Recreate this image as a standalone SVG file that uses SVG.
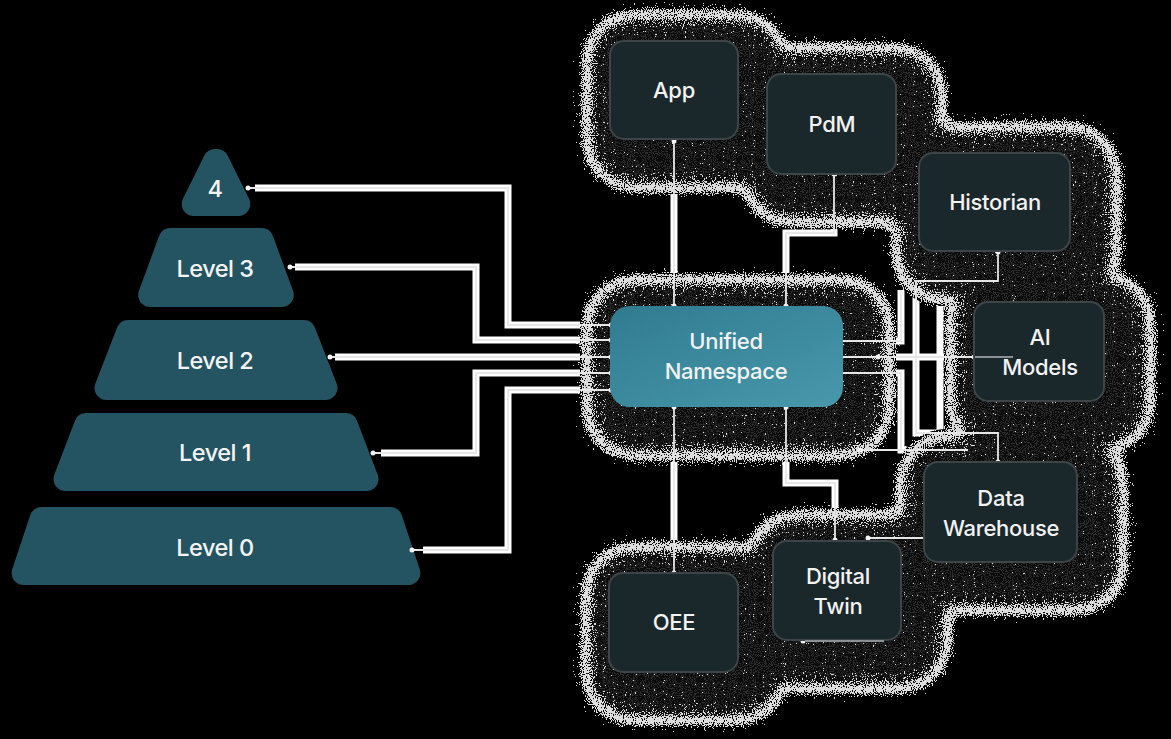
<svg xmlns="http://www.w3.org/2000/svg" xmlns:xlink="http://www.w3.org/1999/xlink" width="1171" height="739" viewBox="0 0 1171 739">
<style>
.tier{fill:#245462;stroke:#245462;stroke-width:24;stroke-linejoin:round}
.ptxt{font-family:Inter,"Liberation Sans",sans-serif;font-size:23.5px;font-weight:500;fill:#f4f4f4;text-anchor:middle;letter-spacing:-0.5px}
.node rect{fill:#1a272b;stroke:#3d4548;stroke-width:2}
.ntxt{font-family:Inter,"Liberation Sans",sans-serif;font-size:22px;font-weight:500;fill:#f2f2f2;text-anchor:middle;letter-spacing:-0.3px}
.thick{fill:none;stroke:#ffffff;stroke-width:7;stroke-linejoin:miter}
.thin{fill:none;stroke:#e6e6e6;stroke-width:1.8}
.faint{fill:none;stroke:#8a9194;stroke-width:1.8}
.dot{fill:#f2f2f2}
</style>
<defs>
<linearGradient id="unsg" x1="0" y1="0" x2="1" y2="1">
<stop offset="0" stop-color="#317b8f"/>
<stop offset="1" stop-color="#4898ac"/>
</linearGradient>
<g id="shadowRects">
<rect x="593" y="21" width="185" height="160" rx="40"/>
<rect x="750" y="54" width="186" height="162" rx="40"/>
<rect x="902" y="133" width="208" height="160" rx="40"/>
<rect x="957" y="282" width="187" height="161" rx="40"/>
<rect x="593" y="286" width="290" height="163" rx="40"/>
<rect x="907" y="442" width="210" height="162" rx="40"/>
<rect x="756" y="521" width="185" height="161" rx="40"/>
<rect x="592" y="553" width="186" height="161" rx="40"/>
</g>
<filter id="grain" filterUnits="userSpaceOnUse" x="0" y="0" width="1171" height="739" color-interpolation-filters="sRGB">
<feGaussianBlur in="SourceAlpha" stdDeviation="9" result="b"/>
<feComponentTransfer in="b" result="d">
<feFuncA type="table" tableValues="0 0.55 0.8 0.72 0.58 0.45 0.35 0.27 0.2 0.14 0.09"/>
</feComponentTransfer>
<feTurbulence type="fractalNoise" baseFrequency="0.9" numOctaves="1" seed="3" result="t"/>
<feColorMatrix in="t" type="matrix" values="0 0 0 0 0  0 0 0 0 0  0 0 0 0 0  2 0 0 0 -0.5" result="n"/>
<feComposite in="d" in2="n" operator="arithmetic" k1="0" k2="1" k3="-1" k4="0.47" result="diff"/>
<feComponentTransfer in="diff" result="mask">
<feFuncA type="discrete" tableValues="0 1"/>
</feComponentTransfer>
<feFlood flood-color="#dcdcdc" result="w"/>
<feComposite in="w" in2="mask" operator="in" result="specks"/>
<feComponentTransfer in="b" result="d2">
<feFuncA type="table" tableValues="0 0 0 0.1 0.2 0.3 0.36 0.42 0.45 0.45 0.45"/>
</feComponentTransfer>
<feTurbulence type="fractalNoise" baseFrequency="0.95" numOctaves="1" seed="11" result="t2"/>
<feColorMatrix in="t2" type="matrix" values="0 0 0 0 0  0 0 0 0 0  0 0 0 0 0  2 0 0 0 -0.5" result="n2"/>
<feComposite in="d2" in2="n2" operator="arithmetic" k1="0" k2="1" k3="-1" k4="0.47" result="diff2"/>
<feComponentTransfer in="diff2" result="mask2">
<feFuncA type="discrete" tableValues="0 1"/>
</feComponentTransfer>
<feFlood flood-color="#2c2c2c" result="g2"/>
<feComposite in="g2" in2="mask2" operator="in" result="grain2"/>
<feComponentTransfer in="b" result="core">
<feFuncA type="linear" slope="20" intercept="-1"/>
</feComponentTransfer>
<feFlood flood-color="#0c0c0c" result="dk"/>
<feComposite in="dk" in2="core" operator="in" result="base"/>
<feMerge><feMergeNode in="base"/><feMergeNode in="grain2"/><feMergeNode in="specks"/></feMerge>
</filter>
<mask id="gapMask" maskUnits="userSpaceOnUse" x="0" y="0" width="1171" height="739">
<rect x="0" y="0" width="1171" height="739" fill="#fff"/>
<use xlink:href="#shadowRects" href="#shadowRects" fill="#000" stroke="#000" stroke-width="26"/>
</mask>
</defs>

<rect x="0" y="0" width="1171" height="739" fill="#000"/>

<g id="shadows">
<use xlink:href="#shadowRects" href="#shadowRects" fill="#000" filter="url(#grain)"/>
</g>

<g id="level4">
<polygon class="tier" points="215,161 217,161 238.3,204 193.7,204"/>
<text class="ptxt" x="215" y="197">4</text>
</g>
<g id="level3">
<polygon class="tier" points="170.4,240 261.6,240 281.8,295 150.2,295"/>
<text class="ptxt" x="215" y="277">Level 3</text>
</g>
<g id="level2">
<polygon class="tier" points="128.2,332 303.8,332 325.5,388 106.5,388"/>
<text class="ptxt" x="215" y="369">Level 2</text>
</g>
<g id="level1">
<polygon class="tier" points="86.2,425 345.8,425 366.5,479 65.5,479"/>
<text class="ptxt" x="215" y="461">Level 1</text>
</g>
<g id="level0">
<polygon class="tier" points="41.6,519 390.4,519 408.4,573 23.6,573"/>
<text class="ptxt" x="215" y="556">Level 0</text>
</g>

<g id="connectors">
<g mask="url(#gapMask)">
<path class="thick" d="M255 188 H508 V325 H611"/>
<path class="thick" d="M295 267 H476 V340 H611"/>
<path class="thick" d="M335 357 H611"/>
<path class="thick" d="M381 453 H476 V373 H611"/>
<path class="thick" d="M423 550 H508 V390 H611"/>
<path class="thick" d="M674 141 V306"/>
<path class="thick" d="M834 174 V233 H786 V306"/>
<path class="thick" d="M674 407 V573"/>
<path class="thick" d="M786 407 V483 H835 V540"/>
<path class="thick" d="M998 252 V281 H916 V433 H998 V462"/>
<path class="thick" d="M841 341 H901 V290"/>
<path class="thick" d="M841 357 H974"/>
<path class="thick" d="M841 373 H901 V450 H968"/>
<path class="thick" d="M940 300 V433"/>
</g>
<path class="thin" d="M248 188 H508 V325 H611"/>
<path class="thin" d="M290 267 H476 V340 H611"/>
<path class="thin" d="M330 357 H611"/>
<path class="thin" d="M373 453 H476 V373 H611"/>
<path class="thin" d="M412 550 H508 V390 H611"/>
<path class="thin" d="M674 141 V306"/>
<path class="thin" d="M834 174 V233 H786 V306"/>
<path class="thin" d="M674 407 V573"/>
<path class="thin" d="M786 407 V483 H835 V540"/>
<path class="thin" d="M868 538 H924"/>
<path class="thin" d="M998 252 V281 H916 V433 H998 V462"/>
<path class="thin" d="M841 341 H901 V290"/>
<path class="thin" d="M841 357 H974"/>
<path class="thin" d="M841 373 H901 V450 H968"/>
<path class="thin" d="M860 450 H901"/>
<circle class="dot" cx="248" cy="188" r="2.5"/>
<circle class="dot" cx="290" cy="267" r="2.5"/>
<circle class="dot" cx="330" cy="357" r="2.5"/>
<circle class="dot" cx="373" cy="453" r="2.5"/>
<circle class="dot" cx="412" cy="550" r="2.5"/>
<circle class="dot" cx="611" cy="325" r="2.5"/>
<circle class="dot" cx="611" cy="340" r="2.5"/>
<circle class="dot" cx="611" cy="357" r="2.5"/>
<circle class="dot" cx="611" cy="373" r="2.5"/>
<circle class="dot" cx="611" cy="390" r="2.5"/>
<circle class="dot" cx="674" cy="141" r="2.5"/>
<circle class="dot" cx="834" cy="174" r="2.5"/>
<circle class="dot" cx="998" cy="252" r="2.5"/>
<circle class="dot" cx="674" cy="306" r="2.5"/>
<circle class="dot" cx="786" cy="306" r="2.5"/>
<circle class="dot" cx="674" cy="407" r="2.5"/>
<circle class="dot" cx="786" cy="407" r="2.5"/>
<circle class="dot" cx="841" cy="341" r="2.5"/>
<circle class="dot" cx="841" cy="357" r="2.5"/>
<circle class="dot" cx="841" cy="373" r="2.5"/>
<circle class="dot" cx="878" cy="357" r="2.5"/>
<circle class="dot" cx="974" cy="357" r="2.5"/>
<circle class="dot" cx="860" cy="450" r="2.5"/>
<circle class="dot" cx="998" cy="462" r="2.5"/>
<circle class="dot" cx="674" cy="573" r="2.5"/>
<circle class="dot" cx="835" cy="540" r="2.5"/>
<circle class="dot" cx="868" cy="538" r="2.5"/>
<circle class="dot" cx="803" cy="641" r="2.5"/>
</g>

<g id="app" class="node">
<rect x="610" y="41" width="128" height="98" rx="14"/>
<text class="ntxt" x="674" y="98">App</text>
</g>
<g id="pdm" class="node">
<rect x="767" y="74" width="129" height="100" rx="14"/>
<text class="ntxt" x="832" y="132">PdM</text>
</g>
<g id="historian" class="node">
<rect x="919" y="153" width="151" height="98" rx="14"/>
<text class="ntxt" x="995" y="210">Historian</text>
</g>
<g id="ai-models" class="node">
<rect x="974" y="302" width="130" height="99" rx="14"/>
<text class="ntxt" x="1040" y="345">AI</text>
<text class="ntxt" x="1040" y="375">Models</text>
<path class="faint" d="M975 357 H1013"/>
</g>
<g id="unified-namespace">
<rect x="610" y="306" width="233" height="101" rx="20" fill="url(#unsg)"/>
<text class="ntxt" x="726" y="349">Unified</text>
<text class="ntxt" x="726" y="379">Namespace</text>
</g>
<g id="data-warehouse" class="node">
<rect x="924" y="462" width="153" height="100" rx="14"/>
<text class="ntxt" x="1001" y="506">Data</text>
<text class="ntxt" x="1001" y="536">Warehouse</text>
</g>
<g id="digital-twin" class="node">
<rect x="773" y="541" width="128" height="99" rx="14"/>
<text class="ntxt" x="838" y="584">Digital</text>
<text class="ntxt" x="838" y="614">Twin</text>
<path class="faint" d="M805 641 H884"/>
</g>
<g id="oee" class="node">
<rect x="609" y="573" width="129" height="99" rx="14"/>
<text class="ntxt" x="674" y="630">OEE</text>
</g>
</svg>
